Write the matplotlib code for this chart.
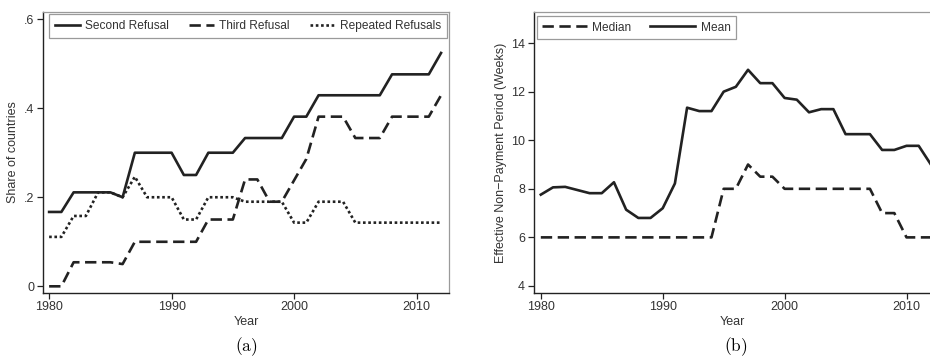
import matplotlib.pyplot as plt
import numpy as np
from matplotlib.ticker import FuncFormatter

plt.rcParams['font.family'] = ['Liberation Sans', 'DejaVu Sans']
plt.rcParams['mathtext.fontset'] = 'cm'

# data
years = np.arange(1980, 2013)

second_refusal = [0.167, 0.167, 0.211, 0.211, 0.211, 0.211, 0.200, 0.300, 0.300, 0.300,
                  0.300, 0.250, 0.250, 0.300, 0.300, 0.300, 0.333, 0.333, 0.333, 0.333,
                  0.381, 0.381, 0.429, 0.429, 0.429, 0.429, 0.429, 0.429, 0.476, 0.476,
                  0.476, 0.476, 0.524]
third_refusal = [0.0, 0.0, 0.054, 0.054, 0.054, 0.054, 0.050, 0.100, 0.100, 0.100,
                 0.100, 0.100, 0.100, 0.150, 0.150, 0.150, 0.240, 0.240, 0.190, 0.190,
                 0.238, 0.286, 0.381, 0.381, 0.381, 0.333, 0.333, 0.333, 0.381, 0.381,
                 0.381, 0.381, 0.429]
repeated_refusals = [0.111, 0.111, 0.158, 0.158, 0.211, 0.211, 0.200, 0.246, 0.200, 0.200,
                     0.200, 0.150, 0.150, 0.200, 0.200, 0.200, 0.190, 0.190, 0.190, 0.190,
                     0.143, 0.143, 0.190, 0.190, 0.190, 0.143, 0.143, 0.143, 0.143, 0.143,
                     0.143, 0.143, 0.143]

median_weeks = [6, 6, 6, 6, 6, 6, 6, 6, 6, 6, 6, 6, 6, 6, 6, 8, 8, 9, 8.5, 8.5,
                8, 8, 8, 8, 8, 8, 8, 8, 7, 7, 6, 6, 6]
mean_weeks = [7.76, 8.06, 8.08, 7.95, 7.82, 7.82, 8.27, 7.14, 6.8, 6.8,
              7.2, 8.22, 11.34, 11.2, 11.2, 12.0, 12.2, 12.9, 12.35, 12.35,
              11.74, 11.67, 11.15, 11.28, 11.28, 10.25, 10.25, 10.25, 9.6, 9.6,
              9.77, 9.77, 9.0]

col = '#222222'
txt = '#333333'
lw = 1.9
fs = 8.6

fig = plt.figure(figsize=(9.3, 3.58), dpi=100)
ax1 = fig.add_axes([43 / 930, 65 / 358, 406 / 930, 281 / 358])
ax2 = fig.add_axes([533.5 / 930, 65 / 358, 398 / 930, 281 / 358])


def style(ax):
    for s in ['top', 'right']:
        ax.spines[s].set_color('#9a9a9a')
        ax.spines[s].set_linewidth(0.9)
    for s in ['left', 'bottom']:
        ax.spines[s].set_color('#222222')
        ax.spines[s].set_linewidth(1.0)
    ax.tick_params(direction='out', length=4, width=0.9, labelsize=fs + 0.4, pad=2,
                   colors='#222222', labelcolor=txt)
    ax.set_xticks([1980, 1990, 2000, 2010])
    ax.set_xlabel('Year', fontsize=fs + 0.4, labelpad=2, color=txt)


# (a)
ax1.plot(years, second_refusal, color=col, lw=lw, label='Second Refusal')
ax1.plot(years, third_refusal, color=col, lw=lw, dashes=(4.3, 2.1), label='Third Refusal')
ax1.plot(years, repeated_refusals, color=col, lw=lw, dashes=(1, 1), label='Repeated Refusals')
ax1.set_xlim(1979.5, 2012.65)
ax1.set_ylim(-0.015, 0.616)
ax1.set_yticks([0, 0.2, 0.4, 0.6])
ax1.yaxis.set_major_formatter(FuncFormatter(lambda v, p: '0' if v == 0 else ('%.1f' % v).lstrip('0')))
ax1.set_ylabel('Share of countries', fontsize=fs + 0.4, labelpad=4, color=txt)
style(ax1)
leg1 = ax1.legend(loc='upper left', bbox_to_anchor=(0.014, 0.992), ncol=3, fontsize=fs,
                  handlelength=2.1, handletextpad=0.42, columnspacing=1.7, borderpad=0.5,
                  borderaxespad=0, fancybox=False, edgecolor='#9a9a9a', framealpha=1)
leg1.get_frame().set_linewidth(0.9)
for t in leg1.get_texts():
    t.set_color(txt)

# (b)
ax2.plot(years, median_weeks, color=col, lw=lw, dashes=(4.3, 2.1), label='Median')
ax2.plot(years, mean_weeks, color=col, lw=lw, label='Mean')
ax2.set_xlim(1979.4, 2012.05)
ax2.set_ylim(3.71, 15.28)
ax2.set_yticks([4, 6, 8, 10, 12, 14])
ax2.set_ylabel('Effective Non\u2212Payment Period (Weeks)', fontsize=fs + 0.4, labelpad=3, color=txt)
style(ax2)
leg2 = ax2.legend(loc='upper left', bbox_to_anchor=(0.008, 0.985), ncol=2, fontsize=fs,
                  handlelength=3.75, handletextpad=0.45, columnspacing=1.6, borderpad=0.45,
                  borderaxespad=0, fancybox=False, edgecolor='#9a9a9a', framealpha=1)
leg2.get_frame().set_linewidth(0.9)
for t in leg2.get_texts():
    t.set_color(txt)

fig.text(246 / 930, 1 - 347 / 358, r'$\mathrm{(a)}$', ha='center', va='center', fontsize=12.5)
fig.text(736 / 930, 1 - 347 / 358, r'$\mathrm{(b)}$', ha='center', va='center', fontsize=12.5)

fig.savefig('out.png', dpi=100, facecolor='white')
